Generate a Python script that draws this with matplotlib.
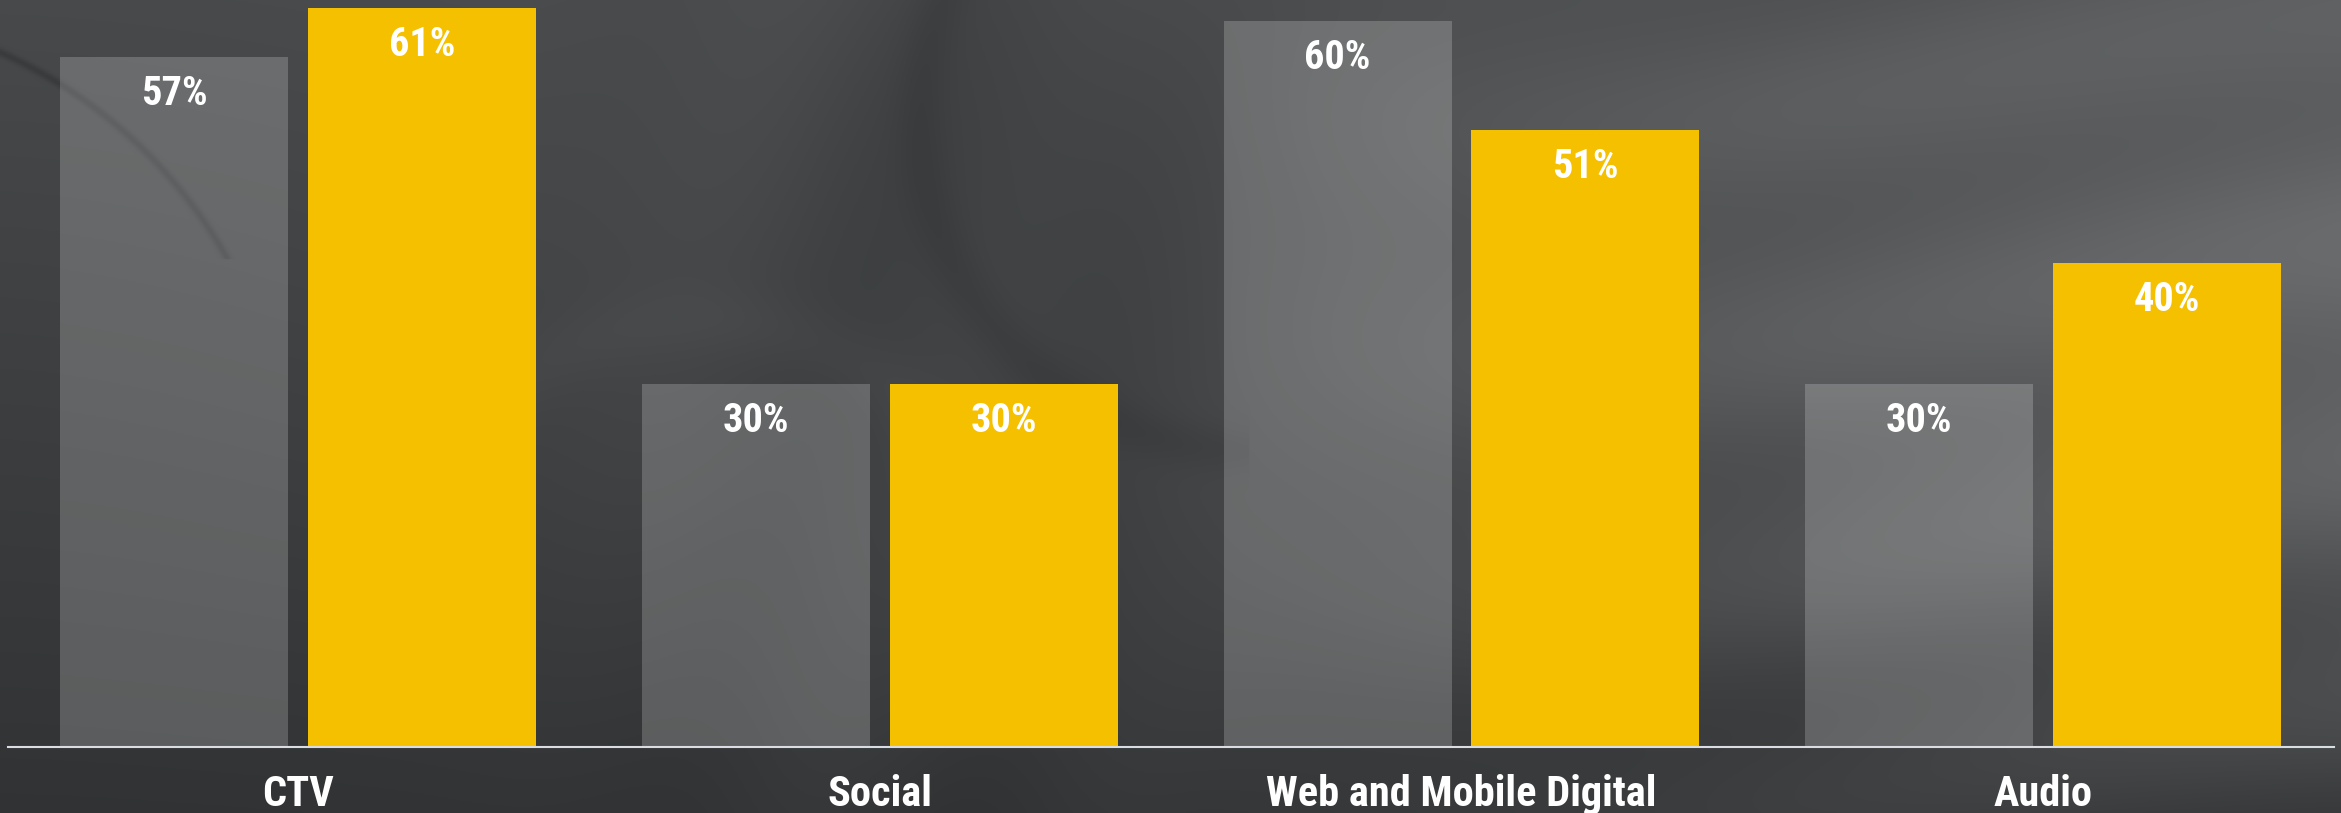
import numpy as np
import matplotlib.pyplot as plt

categories = ['CTV', 'Social', 'Web and Mobile Digital', 'Audio']
gray_values = [57, 30, 60, 30]
yellow_values = [61, 30, 51, 40]
value_labels_gray = ['57%', '30%', '60%', '30%']
value_labels_yellow = ['61%', '30%', '51%', '40%']

W, H = 2341, 813
FONT = ['Roboto Condensed', 'DejaVu Sans']
YELLOW = '#F5C000'

fig = plt.figure(figsize=(W / 100, H / 100), dpi=100)

# dark textured backdrop
bg = fig.add_axes([0, 0, 1, 1])
bg.axis('off')
Y, X = np.mgrid[0:H:2, 0:W:2].astype(float)
lum = 0.28 - 0.09 * (Y / H)
lum += 0.15 * (X / W) ** 1.5 * np.exp(-((Y - 350) / 420) ** 2)
lum -= 0.05 * np.exp(-((X - 1050) / 260) ** 2 - ((Y - 200) / 320) ** 2)
# thin dark arc in the upper left
r1 = np.hypot(X + 200, Y - 500)
lum -= 0.05 * np.exp(-((r1 - 490) / 4) ** 2) * (Y < 260)
# soft swirl through the middle
r2 = np.hypot(X - 1250, Y - 120)
lum -= 0.02 * np.exp(-((r2 - 330) / 25) ** 2) * (X < 1250)
r3 = np.hypot(X - 700, Y - 620)
lum += 0.015 * np.exp(-((r3 - 300) / 35) ** 2) * (Y < 620)
band = np.sin(Y / 38 + 1.8 * np.sin(X / 320))
lum += 0.018 * band * np.clip((X - 1200) / 600, 0, 1)
lum += 0.012 * np.sin(X / 55 + Y / 140) * np.exp(-((X - 900) / 250) ** 2)
rgb = np.dstack([lum, lum + 0.008, lum + 0.014]).clip(0, 1)
bg.imshow(rgb, extent=[0, 1, 0, 1], aspect='auto', transform=bg.transAxes)

ax = fig.add_axes([7.5 / W, (H - 747) / H, (2334 - 7.5) / W, 747 / H])
ax.patch.set_alpha(0)

x = np.arange(len(categories))
width = 0.392
offset = 0.213
gray_bars = ax.bar(x - offset, gray_values, width, color='white', alpha=0.2, linewidth=0)
yellow_bars = ax.bar(x + offset, yellow_values, width, color=YELLOW, linewidth=0)

for bars, labels in ((gray_bars, value_labels_gray), (yellow_bars, value_labels_yellow)):
    for b, lab in zip(bars, labels):
        ax.annotate(lab, (b.get_x() + b.get_width() / 2, b.get_height()),
                    xytext=(0, -48), textcoords='offset pixels',
                    ha='center', va='baseline', color='white',
                    fontsize=29, fontweight='bold', family=FONT)

for i, cat in enumerate(categories):
    ax.annotate(cat, (i, 0), xytext=(0, -59), textcoords='offset pixels',
                ha='center', va='baseline', color='white',
                fontsize=30.5, fontweight='bold', family=FONT,
                annotation_clip=False)

ax.set_xlim(-0.5, 3.5)
ax.set_ylim(0, 61.7)
for side in ('top', 'right', 'left'):
    ax.spines[side].set_visible(False)
ax.spines['bottom'].set_color('#d9dce2')
ax.spines['bottom'].set_linewidth(1.5)
ax.set_xticks([])
ax.set_yticks([])

fig.savefig('out.png', dpi=100)
